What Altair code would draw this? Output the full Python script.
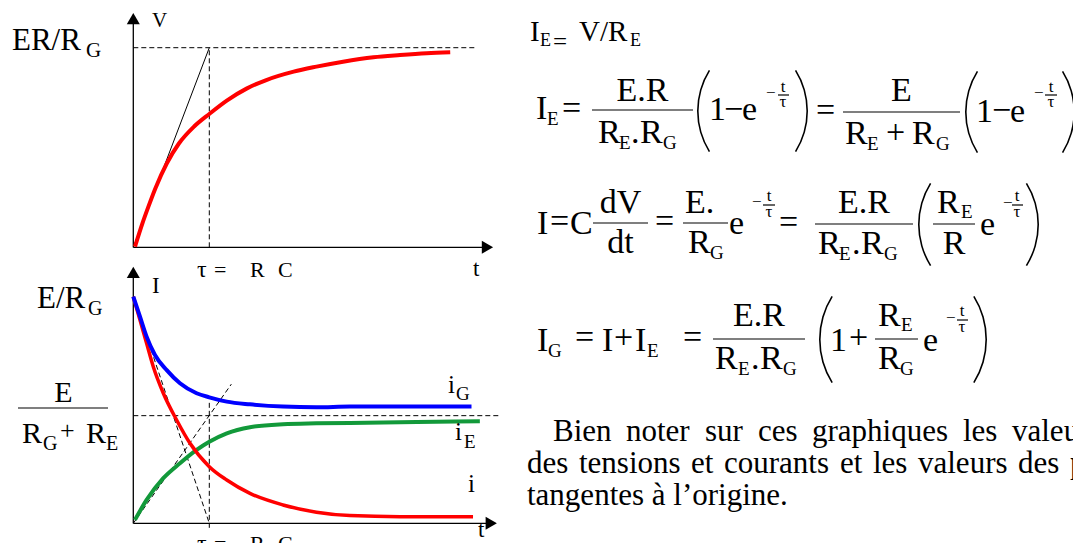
import altair as alt
import pandas as pd
import math

# ---------------- data (t in units of tau) ----------------
# top plot : V(t), in units of E.R/R_G
v_t = [0.022, 0.12, 0.2, 0.29, 0.44, 0.6, 0.8, 1.0, 1.23, 1.49, 1.75, 2.11, 2.41, 2.76, 3.16, 3.51, 3.86, 4.17]
v_v = [0.003, 0.12, 0.205, 0.295, 0.42, 0.52, 0.605, 0.668, 0.735, 0.795, 0.838, 0.880, 0.905, 0.930, 0.952, 0.963, 0.972, 0.977]

# bottom plot : currents, in units of E/R_G
ig_t = [0.0, 0.088, 0.175, 0.285, 0.44, 0.614, 0.833, 1.0, 1.23, 1.535, 1.97, 2.41, 2.85, 3.51, 4.45]
ig_v = [1.0, 0.912, 0.824, 0.743, 0.676, 0.618, 0.574, 0.556, 0.537, 0.525, 0.515, 0.512, 0.515, 0.515, 0.515]

i_t = [0.0, 0.088, 0.175, 0.263, 0.395, 0.57, 0.746, 1.0, 1.23, 1.535, 1.97, 2.41, 2.85, 3.51, 4.47]
i_v = [1.0, 0.897, 0.794, 0.691, 0.574, 0.456, 0.353, 0.25, 0.191, 0.132, 0.081, 0.049, 0.034, 0.029, 0.029]

ie_t = [0.022, 0.175, 0.395, 0.614, 0.833, 1.0, 1.23, 1.535, 1.97, 2.41, 3.07, 3.73, 4.56]
ie_v = [0.015, 0.103, 0.199, 0.265, 0.324, 0.36, 0.397, 0.424, 0.437, 0.441, 0.444, 0.447, 0.45]

asym_top = 1.0      # E.R/R_G
asym_bot = 0.475    # E/(R_G+R_E)
tangent_ie_end = [1.29, 0.614]

paragraph_1 = ["Bien", "noter", "sur", "ces", "graphiques", "les", "valeurs"]
paragraph_2 = ["des", "tensions", "et", "courants", "et", "les", "valeurs", "des", "pentes"]
paragraph_3 = "tangentes à l’origine."

# ---------------- scales ----------------
W, H = 1065, 535
FONT = "Liberation Serif"

def sc(domain, rng):
    return alt.Scale(domain=domain, range=rng, nice=False, zero=False)

TX = sc([0, 5], [125.3, 125.3 + 5 * 76])
TYT = sc([0, 1], [239.3, 39.7])
TYB = sc([0, 1], [515.3, 288.7])
PX = sc([0, 1081], [-8, 1073])
PY = sc([0, 551], [-8, 543])

layers = []

def curve(ts, vs, ysc, **kw):
    df = pd.DataFrame({"t": ts, "v": vs})
    layers.append(
        alt.Chart(df).mark_line(**kw).encode(
            x=alt.X("t:Q", scale=TX, axis=None),
            y=alt.Y("v:Q", scale=ysc, axis=None),
            order=alt.Order("t:Q"),
        )
    )

def seg(p1, p2, ysc, dash=True, width=1.0):
    kw = dict(color="black", strokeWidth=width)
    if dash:
        kw["strokeDash"] = [5, 3]
    curve([p1[0], p2[0]], [p1[1], p2[1]], ysc, **kw)

def arrow(t, v, ysc, shape):
    df = pd.DataFrame({"t": [t], "v": [v]})
    layers.append(
        alt.Chart(df).mark_point(shape=shape, filled=True, size=170, color="black", opacity=1).encode(
            x=alt.X("t:Q", scale=TX, axis=None),
            y=alt.Y("v:Q", scale=ysc, axis=None),
        )
    )

# ---- top plot ----
seg((0, asym_top), (4.5, asym_top), TYT)
seg((1, 0), (1, asym_top), TYT)
seg((0, 0), (1, asym_top), TYT, dash=False, width=1.0)
seg((0, 0), (0, 1.144), TYT, dash=False, width=1.3)
seg((0, 0), (4.654, 0), TYT, dash=False, width=1.3)
arrow(0, 1.146, TYT, "triangle-up")
arrow(4.66, 0, TYT, "triangle-right")
curve(v_t, v_v, TYT, color="#ff0000", strokeWidth=4, interpolate="monotone")

# ---- bottom plot ----
seg((0, asym_bot), (4.82, asym_bot), TYB)
seg((1, -0.02), (1, 0.544), TYB)
seg((0, 1.0), (1, 0.0), TYB)
seg((0, 0), tuple(tangent_ie_end), TYB)
seg((0, 0), (0, 1.105), TYB, dash=False, width=1.3)
seg((0, 0), (4.706, 0), TYB, dash=False, width=1.3)
arrow(0, 1.107, TYB, "triangle-up")
arrow(4.71, 0, TYB, "triangle-right")
curve(ie_t, ie_v, TYB, color="#12993a", strokeWidth=4, interpolate="monotone")
curve(i_t, i_v, TYB, color="#ff0000", strokeWidth=3.5, interpolate="monotone")
curve(ig_t, ig_v, TYB, color="#0000ff", strokeWidth=4, interpolate="monotone")

# ---------------- text layout (page pixels) ----------------
texts = []   # (text, x, baseline, size, align)
bars = []    # (x1, x2, y)
parens = []  # (side, extreme x, centre y, height)

def T(s, x, y, fs, align="left"):
    texts.append((s, x, y, fs, align))

def TC(s, x, y, fs):
    T(s, x, y, fs, "center")

def OP(s, x, axis_y, fs):
    T(s, x, axis_y + 0.26 * fs, fs)

def BAR(x1, x2, y):
    bars.append((x1, x2, y))

# left labels, top plot
T("ER/R", 12, 50, 31); T("G", 86, 57, 21)
T("V", 152, 27, 21)
T("τ", 197, 277, 24); T("=", 214, 277, 22); T("R", 250, 277, 22); T("C", 278, 277, 22)
T("t", 473, 276, 23)
# left labels, bottom plot
T("I", 152, 293, 23)
T("E/R", 37, 308, 31); T("G", 88, 315, 20)
TC("E", 63.5, 402, 30)
BAR(18, 108, 408)
T("R", 22, 443, 30); T("G", 43, 450, 20); OP("+", 60, 432, 26); T("R", 86, 443, 30); T("E", 106, 450, 20)
T("i", 448, 393, 25); T("G", 456, 400, 19)
T("i", 455, 440, 25); T("E", 464, 448, 19)
T("i", 468, 492, 25)
T("τ", 197, 551, 24); T("=", 214, 551, 22); T("R", 250, 551, 22); T("C", 278, 551, 22)
T("t", 478, 537, 23)

M, S, U = 34, 19, 17
# line 1
T("I", 530, 41, 29); T("E", 540, 46, 18); T("=", 553, 50, 25); T("V/R", 579, 41, 29); T("E", 630, 46, 18)
# line 2
T("I", 536, 119, M); T("E", 547, 125, S)
OP("=", 562, 110, M)
TC("E.R", 642.5, 101, M); BAR(592, 693, 110)
T("R", 598, 143, M); T("E", 619, 149, S); T(".", 631, 143, M); T("R", 640, 143, M); T("G", 663, 149, S)
parens.append(("L", 697, 111, 82))
T("1", 709, 120, M); OP("−", 724, 111, M); T("e", 742, 120, M)
OP("−", 766, 94, U); TC("t", 783, 92, U); BAR(778, 789, 95); TC("τ", 783, 107, U)
parens.append(("R", 808, 111, 82))
OP("=", 816, 112, M)
TC("E", 901.5, 101, M); BAR(843, 960, 112)
T("R", 845, 144, M); T("E", 867, 150, S); OP("+", 886, 134, M); T("R", 912, 144, M); T("G", 936, 150, S)
parens.append(("L", 965, 112, 82))
T("1", 976, 122, M); OP("−", 992, 112, M); T("e", 1010, 122, M)
OP("−", 1034, 94, U); TC("t", 1051, 92, U); BAR(1045, 1057, 95); TC("τ", 1051, 107, U)
parens.append(("R", 1075, 112, 82))
# line 3
T("I", 537, 234, M); OP("=", 550, 223, M); T("C", 570, 234, M)
TC("dV", 620.5, 213, M); BAR(593, 648, 223); TC("dt", 620.5, 253, M)
OP("=", 655, 223, M)
T("E.", 685, 213, M); BAR(683, 728, 223); T("R", 688, 253, M); T("G", 710, 259, S)
T("e", 729, 234, M)
OP("−", 752, 203, U); TC("t", 769, 201, U); BAR(763, 775, 205); TC("τ", 769, 217, U)
OP("=", 779, 224, M)
TC("E.R", 864, 213, M); BAR(815, 913, 224)
T("R", 818, 254, M); T("E", 839, 260, S); T(".", 852, 254, M); T("R", 861, 254, M); T("G", 884, 260, S)
parens.append(("L", 918, 224.5, 83))
T("R", 937, 213, M); T("E", 961, 218, S); BAR(933, 975, 224); TC("R", 954, 254, M)
T("e", 980, 235, M)
OP("−", 1003, 204, U); TC("t", 1017, 201, U); BAR(1012, 1023, 205); TC("τ", 1017, 217, U)
parens.append(("R", 1039, 224.5, 83))
# line 4
T("I", 537, 351, M); T("G", 548, 357, S)
OP("=", 575, 339, M)
T("I", 602, 351, M); OP("+", 614, 339, M); T("I", 635, 351, M); T("E", 647, 357, S)
OP("=", 683, 339, M)
TC("E.R", 759, 326, M); BAR(713, 805, 339)
T("R", 715, 369, M); T("E", 738, 375, S); T(".", 751, 369, M); T("R", 760, 369, M); T("G", 783, 375, S)
parens.append(("L", 819, 339.5, 87))
T("1", 830, 351, M); OP("+", 849, 339, M)
T("R", 878, 326, M); T("E", 901, 331, S); BAR(875, 918, 339); T("R", 878, 369, M); T("G", 900, 375, S)
T("e", 923, 351, M)
OP("−", 946, 319, U); TC("t", 962, 316, U); BAR(957, 968, 320); TC("τ", 962, 332, U)
parens.append(("R", 987, 339.5, 87))

# paragraph (justified words)
P = 31
for w, x in zip(paragraph_1, [553, 626, 705, 758, 812, 963, 1012]):
    T(w, x, 441, P)
for w, x in zip(paragraph_2, [527, 579, 691, 724, 840, 873, 918, 1018, 1070]):
    T(w, x, 473, P)
T(paragraph_3, 527, 505, P)

tdf = pd.DataFrame(texts, columns=["s", "x", "y", "fs", "align"])
for (fs, al), sub in tdf.groupby(["fs", "align"]):
    layers.append(
        alt.Chart(sub[["s", "x", "y"]]).mark_text(
            font=FONT, fontSize=float(fs), align=al, baseline="alphabetic", color="black"
        ).encode(
            x=alt.X("x:Q", scale=PX, axis=None),
            y=alt.Y("y:Q", scale=PY, axis=None),
            text="s:N",
        )
    )

bdf = pd.DataFrame(bars, columns=["x1", "x2", "y"])
layers.append(
    alt.Chart(bdf).mark_rule(color="black", strokeWidth=1.2).encode(
        x=alt.X("x1:Q", scale=PX, axis=None),
        x2="x2:Q",
        y=alt.Y("y:Q", scale=PY, axis=None),
    )
)

HALF = math.radians(32)
for side, ex, cy, h in parens:
    R = h / (2 * math.sin(HALF))
    if side == "L":
        cx = ex + R
        th, th2 = 1.5 * math.pi - HALF, 1.5 * math.pi + HALF
    else:
        cx = ex - R
        th, th2 = 0.5 * math.pi - HALF, 0.5 * math.pi + HALF
    df = pd.DataFrame({"x": [cx], "y": [cy]})
    layers.append(
        alt.Chart(df).mark_arc(color="black", radius=R, radius2=R - 1.6, theta=th, theta2=th2).encode(
            x=alt.X("x:Q", scale=PX, axis=None),
            y=alt.Y("y:Q", scale=PY, axis=None),
        )
    )

chart = (
    alt.layer(*layers)
    .resolve_scale(x="independent", y="independent")
    .properties(width=W, height=H, padding=0, autosize=alt.AutoSizeParams(type="none"))
    .configure_view(stroke=None)
)

chart.save("out.html", embed_options={"renderer": "svg", "actions": False})
